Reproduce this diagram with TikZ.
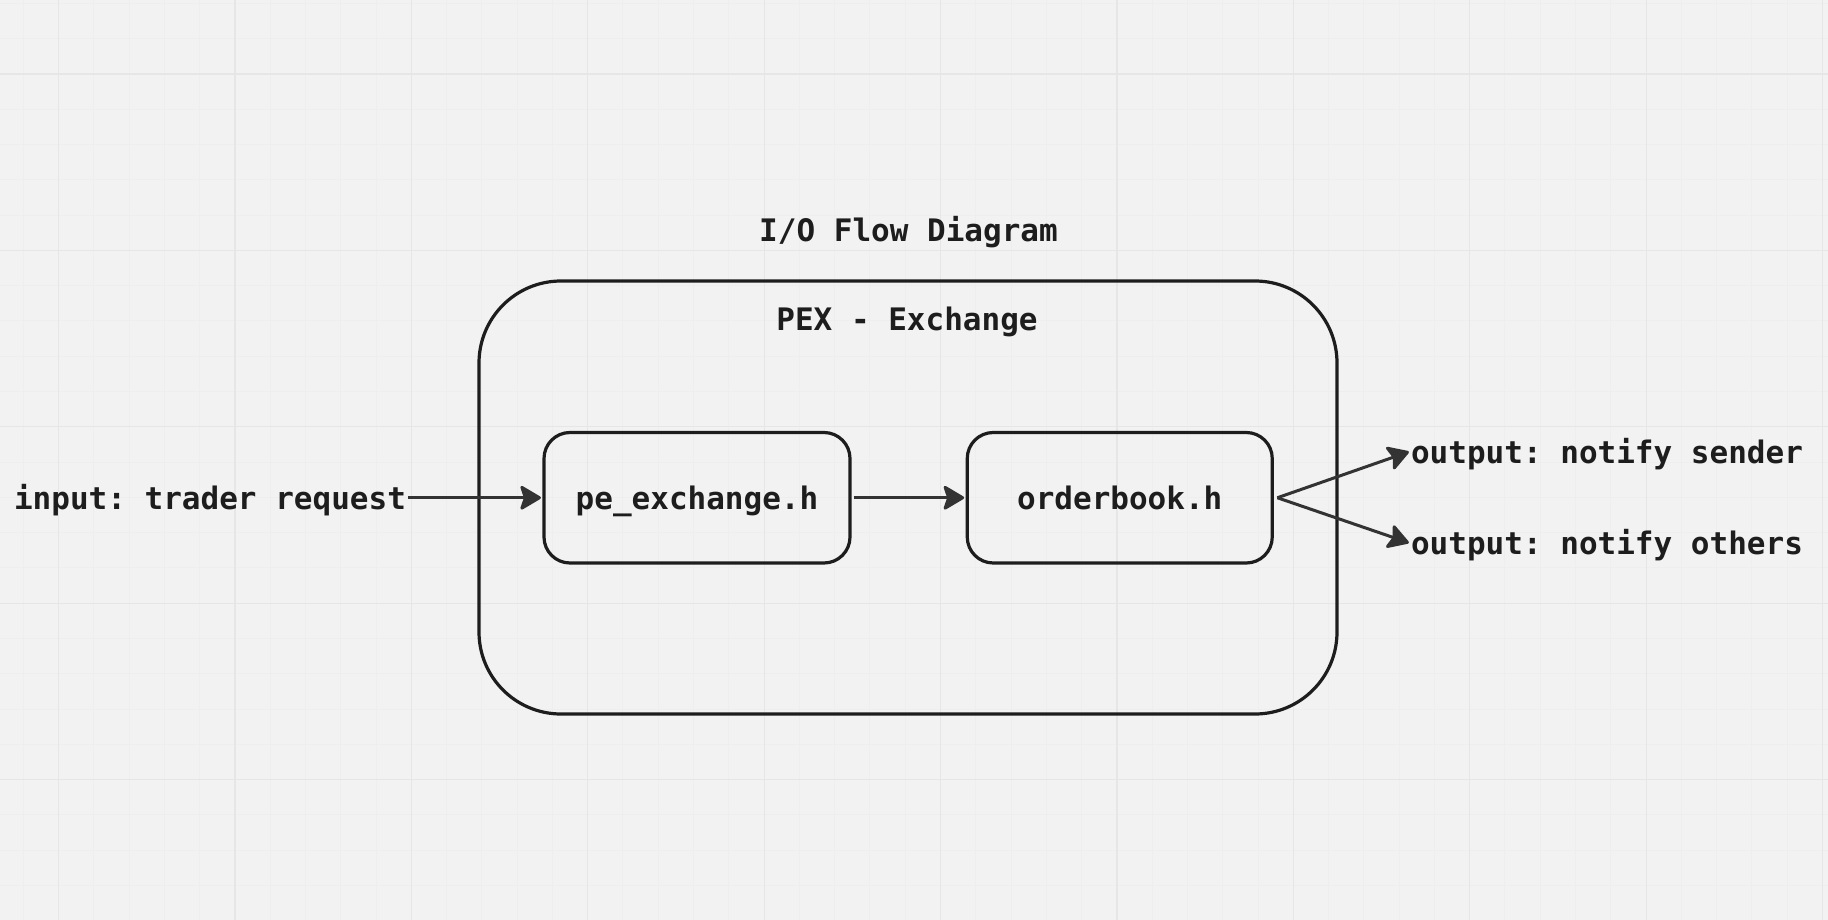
\documentclass[tikz,border=0pt]{standalone}
\usepackage{fontspec}
\setmonofont{DejaVu Sans Mono}
\usetikzlibrary{arrows.meta}
\definecolor{bgc}{HTML}{F2F2F2}
\definecolor{gridminor}{HTML}{EEEEEE}
\definecolor{gridmajor}{HTML}{E6E6E6}
\definecolor{inkc}{HTML}{1D1D1D}
\definecolor{arrowc}{HTML}{333333}
\tikzset{
  lbl/.style={inner sep=0pt, text height=23pt, text depth=0pt, text=inkc,
    font=\fontsize{31}{36}\selectfont\ttfamily\bfseries},
  bigbox/.style={draw=inkc, line width=3.2pt, rounded corners=82pt},
  filebox/.style={lbl, draw=inkc, line width=3.2pt, rounded corners=26pt,
    minimum width=306pt, minimum height=130.5pt},
  flow/.style={draw=arrowc, line width=3pt,
    -{Stealth[length=23pt, width=27pt, inset=4.5pt, round]}},
}
\begin{document}
\begin{tikzpicture}[x=1pt,y=-1pt]
\useasboundingbox (0,0) rectangle (1828,920);
\fill[bgc] (0,0) rectangle (1828,920);
% grid
\foreach \i in {0,...,52} \draw[gridminor, line width=1pt] ({23.22+\i*35.28},0) -- ++(0,920);
\foreach \i in {0,...,26} \draw[gridminor, line width=1pt] (0,{3.4+\i*35.28}) -- ++(1828,0);
\foreach \i in {0,...,10} \draw[gridmajor, line width=1.2pt] ({58.5+\i*176.4},0) -- ++(0,920);
\foreach \i in {0,...,4} \draw[gridmajor, line width=1.2pt] (0,{74+\i*176.4}) -- ++(1828,0);

% title and container
\node[lbl] (title) at (908.5,230.2) {I/O Flow Diagram};
\node[bigbox, minimum width=858pt, minimum height=433pt] (outer) at (908,497.5) {};
\node[lbl] (pex) at (907,318.5) {PEX - Exchange};

% files
\node[filebox] (pe) at (697,497.75) {pe\_exchange.h};
\node[filebox, minimum width=305pt] (ob) at (1119.75,497.75) {orderbook.h};

% inputs and outputs
\node[lbl] (input) at (210,497.8) {input: trader request};
\node[lbl] (sender) at (1607,451.8) {output: notify sender};
\node[lbl] (others) at (1607,542.8) {output: notify others};
\coordinate (fork) at ([xshift=3.5pt]ob.east);

% connectors
\draw[flow] ([xshift=2pt]input.east |- pe.west) -- ([xshift=-1.5pt]pe.west);
\draw[flow] ([xshift=2pt]pe.east) -- ([xshift=-1.5pt]ob.west);
\draw[flow] (fork) -- ([xshift=-2pt]sender.west);
\draw[flow] (fork) -- ([xshift=-2pt]others.west);
\end{tikzpicture}
\end{document}
